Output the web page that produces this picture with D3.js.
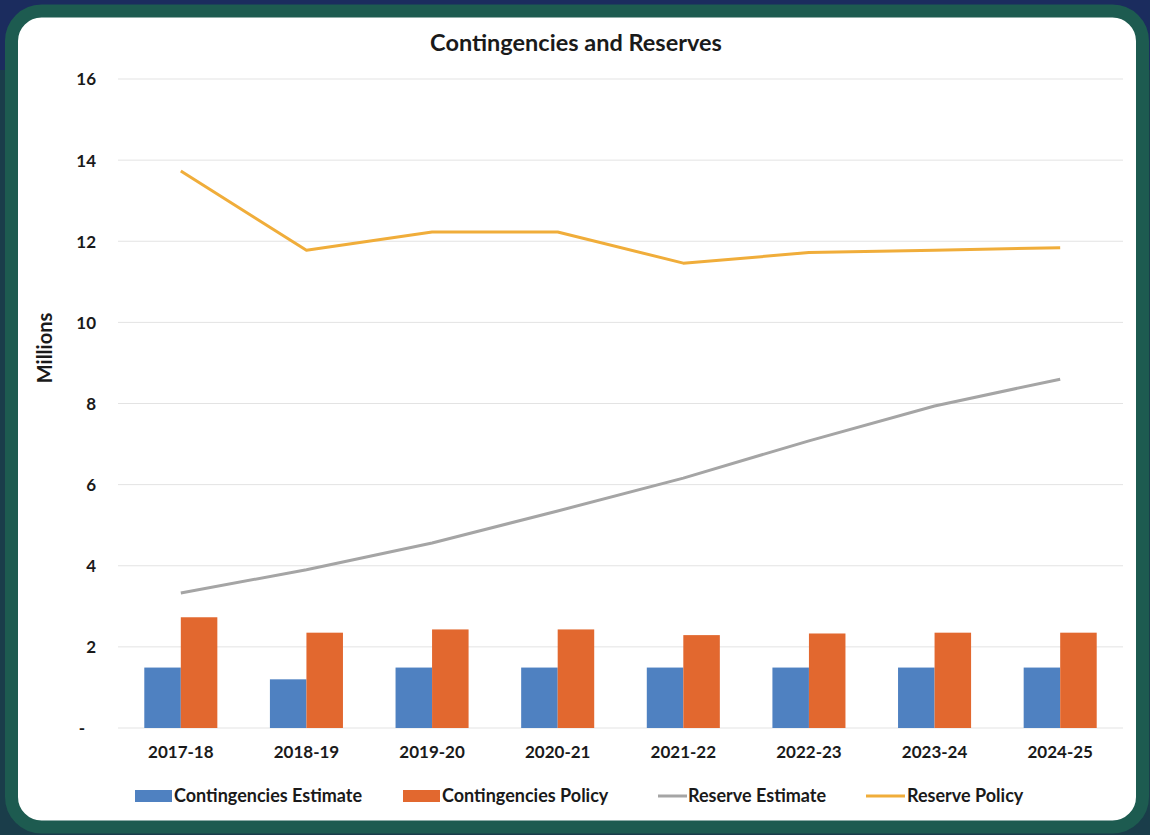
<!DOCTYPE html>
<html><head><meta charset="utf-8">
<script src="https://cdn.jsdelivr.net/npm/d3@7"></script>
<style>
html,body{margin:0;padding:0;background:#1b2e5a;}
svg{display:block;}
text{font-family:Lato,"Open Sans",sans-serif;font-weight:bold;fill:#1a1a1a;}
</style></head><body>
<script>
const categories = ["2017-18","2018-19","2019-20","2020-21","2021-22","2022-23","2023-24","2024-25"];
const contingenciesEstimate = [1.49,1.2,1.49,1.49,1.49,1.49,1.49,1.49];
const contingenciesPolicy = [2.73,2.35,2.43,2.43,2.29,2.33,2.35,2.35];
const reserveEstimate = [3.33,3.9,4.56,5.35,6.16,7.08,7.94,8.6];
const reservePolicy = [13.73,11.78,12.23,12.23,11.46,11.72,11.78,11.84];
const yTicks = [0,2,4,6,8,10,12,14,16];
const seriesNames = ["Contingencies Estimate","Contingencies Policy","Reserve Estimate","Reserve Policy"];
const colors = ["#4f81c1","#e2682f","#a5a5a5","#f0ad3a"];

const W=1150,H=835;
const svg=d3.select("body").append("svg").attr("width",W).attr("height",H);
svg.append("rect").attr("x",0).attr("y",0).attr("width",W).attr("height",H).attr("fill","#1a3d4a");
svg.append("rect").attr("x",0).attr("y",0).attr("width",W).attr("height",70).attr("fill","#1b2c5e");
svg.append("rect").attr("x",11.5).attr("y",11).attr("width",1131).attr("height",816)
  .attr("rx",30).attr("fill","#ffffff").attr("stroke","#1d5b50").attr("stroke-width",13);

const x0=d3.scaleBand().domain(categories).range([118,1123]).paddingInner(0).paddingOuter(0);
const x1=d3.scaleBand().domain([0,1]).range([0,x0.bandwidth()]).paddingInner(0).paddingOuter(0.72);
const y=d3.scaleLinear().domain([0,16]).range([728,79]);

svg.append("g").selectAll("line").data(yTicks).join("line")
  .attr("x1",118).attr("x2",1123).attr("y1",d=>y(d)).attr("y2",d=>y(d))
  .attr("stroke","#e3e3e3").attr("stroke-width",1);

const yAxis=d3.axisLeft(y).tickValues(yTicks).tickSize(0).tickPadding(0)
  .tickFormat(d=>d===0?"-":d);
const gy=svg.append("g").attr("transform","translate(96,0)").call(yAxis);
gy.select(".domain").remove();
gy.selectAll("text").style("font-size","17px").attr("dy","0.35em")
  .attr("dx",d=>d===0?-11:0);

const xAxis=d3.axisBottom(x0).tickSize(0).tickPadding(0);
const gx=svg.append("g").attr("transform","translate(0,745)").call(xAxis);
gx.select(".domain").remove();
gx.selectAll("text").style("font-size","17px").attr("dy","0.75em");

const barData=[contingenciesEstimate,contingenciesPolicy];
barData.forEach((arr,si)=>{
  svg.append("g").selectAll("rect").data(arr).join("rect")
    .attr("x",(d,i)=>x0(categories[i])+x1(si))
    .attr("width",x1.bandwidth())
    .attr("y",d=>y(d)).attr("height",d=>y(0)-y(d))
    .attr("fill",colors[si]);
});

const line=d3.line().x((d,i)=>x0(categories[i])+x0.bandwidth()/2).y(d=>y(d));
[reserveEstimate,reservePolicy].forEach((arr,k)=>{
  svg.append("path").datum(arr).attr("d",line).attr("fill","none")
    .attr("stroke",colors[k+2]).attr("stroke-width",3).attr("stroke-linejoin","round");
});

svg.append("text").attr("x",576).attr("y",51).attr("text-anchor","middle")
  .style("font-size","23.5px").text("Contingencies and Reserves");
svg.append("text").attr("transform","translate(52,348) rotate(-90)").attr("text-anchor","middle")
  .style("font-size","20px").text("Millions");

const legX=[135,403,658,866];
const lg=svg.append("g");
seriesNames.forEach((n,i)=>{
  const g=lg.append("g").attr("transform",`translate(${legX[i]},796)`);
  if(i<2){
    g.append("rect").attr("x",0).attr("y",-6).attr("width",37).attr("height",12).attr("fill",colors[i]);
    g.append("text").attr("x",39).attr("y",0).attr("dy","0.35em").style("font-size","18px").text(n);
  } else {
    g.append("line").attr("x1",0).attr("x2",i===2?29:39).attr("y1",0).attr("y2",0)
      .attr("stroke",colors[i]).attr("stroke-width",3);
    g.append("text").attr("x",i===2?30:41).attr("y",0).attr("dy","0.35em").style("font-size","18px").text(n);
  }
});
</script>
</body></html>
